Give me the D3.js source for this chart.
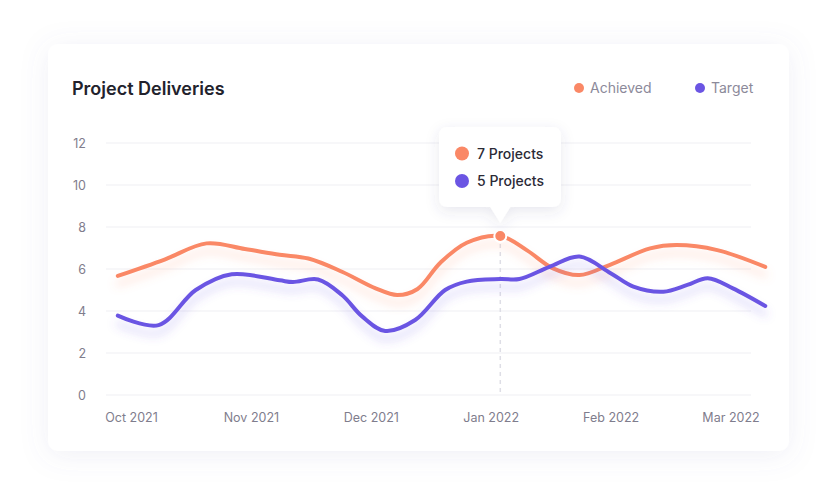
<!DOCTYPE html>
<html>
<head>
<meta charset="utf-8">
<script src="https://cdn.jsdelivr.net/npm/d3@7"></script>
<style>
  html, body { margin: 0; padding: 0; background: #ffffff; }
  svg { display: block; font-family: Inter, "Noto Sans", sans-serif; }
</style>
</head>
<body>
<svg id="chart" width="837" height="503"></svg>
<script>
// ---- data ----
const monthLabels = ["Oct 2021", "Nov 2021", "Dec 2021", "Jan 2022", "Feb 2022", "Mar 2022"];
const yTicks = [0, 2, 4, 6, 8, 10, 12];
const seriesNames = ["Achieved", "Target"];
// x = position in months from Oct 2021 (fractional), y = projects
const achievedX = [-0.11, 0.28, 0.63, 0.95, 1.24, 1.48, 1.76, 2.04, 2.22, 2.39, 2.58, 2.80, 3.08, 3.30, 3.52, 3.74, 3.99, 4.33, 4.55, 4.89, 5.29];
const achievedY = [5.67, 6.45, 7.22, 6.95, 6.68, 6.5, 5.87, 5.08, 4.76, 5.05, 6.3, 7.25, 7.57, 6.9, 6.03, 5.71, 6.19, 6.98, 7.14, 6.9, 6.1];
const targetX = [-0.11, 0.23, 0.54, 0.84, 1.24, 1.35, 1.56, 1.76, 1.93, 2.12, 2.37, 2.62, 2.80, 3.08, 3.24, 3.49, 3.74, 4.0, 4.19, 4.44, 4.64, 4.81, 5.02, 5.29];
const targetY = [3.78, 3.33, 5.0, 5.75, 5.46, 5.38, 5.5, 4.76, 3.73, 3.05, 3.57, 5.0, 5.4, 5.52, 5.52, 6.1, 6.59, 5.8, 5.16, 4.92, 5.24, 5.56, 5.08, 4.24];
const tooltipIndex = 12; // highlighted point on Achieved
const tooltipTexts = ["7 Projects", "5 Projects"];
const colors = ["#FA8866", "#6B55E3"];

// ---- layout ----
const svg = d3.select("#chart");
const defs = svg.append("defs");

const cardShadow = defs.append("filter").attr("id", "cardShadow")
  .attr("x", "-20%").attr("y", "-20%").attr("width", "140%").attr("height", "140%");
cardShadow.append("feDropShadow").attr("dx", 0).attr("dy", 4).attr("stdDeviation", 14)
  .attr("flood-color", "#6a6aa8").attr("flood-opacity", 0.10);

const tipShadow = defs.append("filter").attr("id", "tipShadow")
  .attr("x", "-30%").attr("y", "-30%").attr("width", "160%").attr("height", "170%");
tipShadow.append("feDropShadow").attr("dx", 0).attr("dy", 4).attr("stdDeviation", 7)
  .attr("flood-color", "#50507a").attr("flood-opacity", 0.12);

colors.forEach((c, i) => {
  const f = defs.append("filter").attr("id", "lineGlow" + i)
    .attr("x", "-10%").attr("y", "-50%").attr("width", "120%").attr("height", "200%");
  f.append("feDropShadow").attr("dx", 0).attr("dy", 8).attr("stdDeviation", 5)
    .attr("flood-color", c).attr("flood-opacity", 0.28);
});

svg.append("rect")
  .attr("x", 48).attr("y", 44).attr("width", 741).attr("height", 407)
  .attr("rx", 10).attr("fill", "#ffffff").attr("filter", "url(#cardShadow)");

// title
svg.append("text").attr("x", 72).attr("y", 95)
  .attr("font-size", 18).attr("font-weight", 600).attr("fill", "#22222c")
  .text("Project Deliveries");

// legend
const legendPos = [579, 700];
seriesNames.forEach((n, i) => {
  svg.append("circle").attr("cx", legendPos[i]).attr("cy", 88).attr("r", 5).attr("fill", colors[i]);
  svg.append("text").attr("x", legendPos[i] + 11).attr("y", 93)
    .attr("font-size", 14).attr("fill", "#8c8a9a").text(n);
});

// scales
const x = d3.scaleLinear().domain([0, monthLabels.length - 1]).range([131, 730.5]);
const y = d3.scaleLinear().domain([0, 12]).range([395, 143]);
const gridLeft = 106, gridRight = 751;

// grid
svg.append("g").selectAll("line").data(yTicks).join("line")
  .attr("x1", gridLeft).attr("x2", gridRight)
  .attr("y1", d => y(d)).attr("y2", d => y(d))
  .attr("stroke", "#efeff3").attr("stroke-width", 1);

// y axis
const yAxis = svg.append("g").attr("transform", "translate(86,0)")
  .call(d3.axisLeft(y).tickValues(yTicks).tickSize(0).tickPadding(0));
yAxis.select(".domain").remove();
yAxis.selectAll("text").attr("font-size", 12.5).attr("fill", "#7f7d8d")
  .attr("font-family", "Inter, sans-serif");

// x axis
const xAxis = svg.append("g").attr("transform", "translate(0,413)")
  .call(d3.axisBottom(x).tickValues(d3.range(monthLabels.length))
    .tickFormat(i => monthLabels[i]).tickSize(0).tickPadding(0));
xAxis.select(".domain").remove();
xAxis.selectAll("text").attr("font-size", 12.5).attr("fill", "#7f7d8d")
  .attr("font-family", "Inter, sans-serif");

// dashed guide
const tx = x(achievedX[tooltipIndex]), ty = y(achievedY[tooltipIndex]);
svg.append("line").attr("x1", tx).attr("x2", tx).attr("y1", ty).attr("y2", y(0))
  .attr("stroke", "#dedee6").attr("stroke-width", 1.5).attr("stroke-dasharray", "4,4");

// lines
const line = d3.line().x(d => x(d[0])).y(d => y(d[1])).curve(d3.curveCatmullRom.alpha(0.5));
const series = [d3.zip(achievedX, achievedY), d3.zip(targetX, targetY)];
series.forEach((s, i) => {
  svg.append("path").datum(s).attr("d", line)
    .attr("fill", "none").attr("stroke", colors[i]).attr("stroke-width", 4)
    .attr("stroke-linecap", "round").attr("stroke-linejoin", "round")
    .attr("filter", "url(#lineGlow" + i + ")");
});

// highlighted point
svg.append("circle").attr("cx", tx).attr("cy", ty).attr("r", 6)
  .attr("fill", colors[0]).attr("stroke", "#ffffff").attr("stroke-width", 2);

// tooltip
const tip = svg.append("g").attr("filter", "url(#tipShadow)");
const bx = 439, by = 127, bw = 122, bh = 80;
tip.append("path")
  .attr("d", `M${bx + 9},${by} H${bx + bw - 9} Q${bx + bw},${by} ${bx + bw},${by + 9}
    V${by + bh - 9} Q${bx + bw},${by + bh} ${bx + bw - 9},${by + bh}
    H${tx + 10} L${tx},${ty - 13} L${tx - 10},${by + bh}
    H${bx + 9} Q${bx},${by + bh} ${bx},${by + bh - 9} V${by + 9} Q${bx},${by} ${bx + 9},${by} Z`)
  .attr("fill", "#ffffff");
tooltipTexts.forEach((t, i) => {
  const cy = 153.5 + i * 27.5;
  svg.append("circle").attr("cx", 462).attr("cy", cy).attr("r", 7).attr("fill", colors[i]);
  svg.append("text").attr("x", 477).attr("y", cy + 5)
    .attr("font-size", 14).attr("font-weight", 500).attr("fill", "#2b2a36").text(t);
});
</script>
</body>
</html>
